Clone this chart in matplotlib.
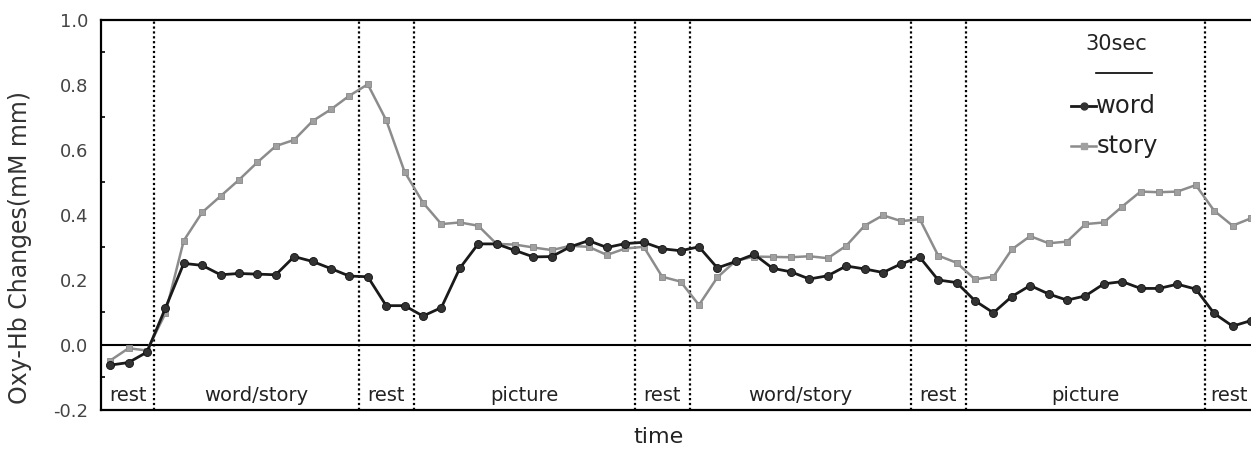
import matplotlib
matplotlib.use("Agg")
import matplotlib.pyplot as plt
import numpy as np

# ---- data ----
word = [-0.062, -0.054, -0.022, 0.113, 0.251, 0.245, 0.216, 0.220, 0.218, 0.216,
        0.272, 0.257, 0.235, 0.212, 0.210, 0.121, 0.121, 0.089, 0.115, 0.236,
        0.311, 0.311, 0.291, 0.271, 0.272, 0.302, 0.321, 0.300, 0.312, 0.316,
        0.296, 0.290, 0.302, 0.237, 0.257, 0.279, 0.236, 0.225, 0.203, 0.213,
        0.243, 0.234, 0.223, 0.250, 0.270, 0.200, 0.192, 0.136, 0.099, 0.149,
        0.183, 0.157, 0.138, 0.151, 0.188, 0.195, 0.174, 0.174, 0.187, 0.172,
        0.097, 0.058, 0.075]
story = [-0.048, -0.010, -0.017, 0.097, 0.321, 0.408, 0.458, 0.508, 0.562, 0.612,
         0.631, 0.689, 0.725, 0.767, 0.802, 0.692, 0.533, 0.438, 0.372, 0.377,
         0.367, 0.311, 0.309, 0.300, 0.292, 0.305, 0.302, 0.277, 0.297, 0.302,
         0.210, 0.195, 0.123, 0.208, 0.259, 0.272, 0.271, 0.270, 0.273, 0.267,
         0.305, 0.367, 0.399, 0.381, 0.387, 0.275, 0.253, 0.202, 0.210, 0.294,
         0.335, 0.313, 0.318, 0.372, 0.377, 0.426, 0.472, 0.470, 0.472, 0.492,
         0.413, 0.367, 0.390]
boundaries = [2.4, 13.5, 16.5, 28.5, 31.5, 43.5, 46.5, 59.5]
phase_labels = ["rest", "word/story", "rest", "picture", "rest",
                "word/story", "rest", "picture", "rest"]
yticks = [-0.2, 0.0, 0.2, 0.4, 0.6, 0.8, 1.0]

x = np.arange(len(word))

fig = plt.figure(figsize=(12.51, 4.49), dpi=100)
ax = fig.add_axes([0.0807, 0.0869, 0.934, 0.8686])
ax.set_xlim(-0.5, 63)
ax.set_ylim(-0.2, 1.0)

ax.axhline(0, color="black", lw=1.5, zorder=1)
for b in boundaries:
    ax.axvline(b, color="black", lw=1.6, ls=(0, (1, 1.2)), zorder=1)

ax.plot(x, story, color="#8c8c8c", lw=1.8, marker="s", ms=4.5,
        mfc="#a0a0a0", mec="#888888", mew=0.6, zorder=3, label="story")
ax.plot(x, word, color="#1a1a1a", lw=2.0, marker="o", ms=5.8,
        mfc="#333333", mec="#111111", mew=0.6, zorder=4, label="word")

# phase labels in the bottom band
edges = [-0.5] + boundaries + [63]
for i, lab in enumerate(phase_labels):
    if i < len(phase_labels) - 1:
        cx = (edges[i] + edges[i + 1]) / 2
        ax.text(cx, -0.155, lab, ha="center", va="center", fontsize=14, color="#222222")
    else:
        ax.text(edges[i] + 0.3, -0.155, lab, ha="left", va="center", fontsize=14, color="#222222")

# spines
for s in ["top", "bottom", "left"]:
    ax.spines[s].set_linewidth(1.6)
    ax.spines[s].set_color("black")
ax.spines["right"].set_visible(False)

ax.set_xticks([])
ax.set_yticks(yticks)
ax.set_yticklabels([f"{v:.1f}" for v in yticks], fontsize=13, color="#444444")
ax.set_yticks(np.arange(-0.2, 1.01, 0.1), minor=True)
ax.tick_params(axis="y", which="major", direction="in", length=0, pad=9)
ax.tick_params(axis="y", which="minor", direction="in", length=3, width=1.2, color="black")

# legend / scale bar
ax.text(54.7, 0.925, "30sec", ha="center", va="center", fontsize=15, color="#222222")
ax.plot([53.6, 56.6], [0.837, 0.837], color="black", lw=1.2)
ax.plot([52.2, 53.6], [0.735, 0.735], color="#1a1a1a", lw=2.0)
ax.plot([52.9], [0.735], marker="o", ms=5, color="#333333")
ax.text(53.6, 0.735, "word", ha="left", va="center", fontsize=17.5, color="#222222")
ax.plot([52.2, 53.6], [0.612, 0.612], color="#8c8c8c", lw=1.8)
ax.plot([52.9], [0.612], marker="s", ms=4.5, color="#a0a0a0")
ax.text(53.6, 0.612, "story", ha="left", va="center", fontsize=17.5, color="#222222")

fig.text(659 / 1251, 1 - 437 / 449, "time", ha="center", va="center", fontsize=16, color="#222222")
fig.text(20.5 / 1251, 0.448, "Oxy-Hb Changes(mM mm)", rotation=90, ha="center",
         va="center", fontsize=17, color="#333333")

fig.savefig("out.png", dpi=100)
